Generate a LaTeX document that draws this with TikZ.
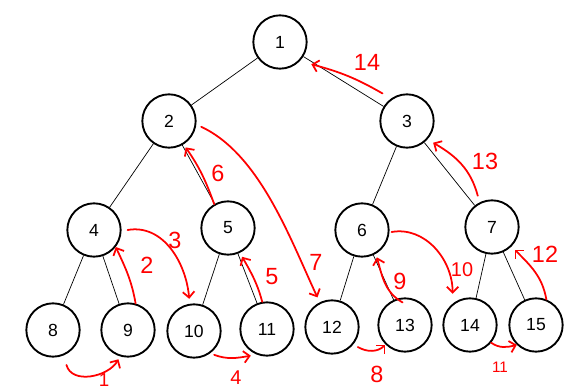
\documentclass[tikz,border=0pt]{standalone}
\usepackage{fontspec}
\setmainfont{Liberation Sans}
\usetikzlibrary{arrows.meta}

\begin{document}
\begin{tikzpicture}[x=0.03cm, y=0.03cm, >={Straight Barb[length=5pt,width=10pt]}]
    % Estilos
    \tikzstyle{vertex} = [draw, circle, line width=1.6pt, minimum size=1.6cm, inner sep=0pt, font=\fontsize{15}{18}\selectfont]
    \tikzstyle{edge} = [line width=0.6pt]
    \tikzstyle{order} = [->, red, line width=1.5pt, line cap=round]
    \tikzstyle{numlabel} = [red, inner sep=0pt, font=\fontsize{20}{24}\selectfont]

    \useasboundingbox (0,0) rectangle (585,392);

    % --- Nodos del arbol ---
    \node [vertex] (n1) at (280,350) {1};
    \node [vertex] (n2) at (169,271) {2};
    \node [vertex] (n3) at (407,271) {3};
    \node [vertex] (n4) at (94,162) {4};
    \node [vertex] (n5) at (228,164) {5};
    \node [vertex] (n6) at (362,162) {6};
    \node [vertex] (n7) at (492,165) {7};
    \node [vertex] (n8) at (53,62) {8};
    \node [vertex] (n9) at (128,62) {9};
    \node [vertex] (n10) at (194,61) {10};
    \node [vertex] (n11) at (267,63) {11};
    \node [vertex] (n12) at (332,65) {12};
    \node [vertex] (n13) at (405,67) {13};
    \node [vertex] (n14) at (470,67) {14};
    \node [vertex] (n15) at (536,67) {15};

    % --- Aristas ---
    \draw [edge] (n1) -- (n2);
    \draw [edge] (n1) -- (n3);
    \draw [edge] (n2) -- (n4);
    \draw [edge] (n2) -- (n5);
    \draw [edge] (n3) -- (n6);
    \draw [edge] (n3) -- (n7);
    \draw [edge] (n4) -- (n8);
    \draw [edge] (n4) -- (n9);
    \draw [edge] (n5) -- (n10);
    \draw [edge] (n5) -- (n11);
    \draw [edge] (n6) -- (n12);
    \draw [edge] (n6) -- (n13);
    \draw [edge] (n7) -- (n14);
    \draw [edge] (n7) -- (n15);

    % --- Recorrido (flechas rojas) ---
    \draw [order] ([shift={(4,-9)}]n8.-70) to[out=-75,in=-120] ([shift={(-1,-3)}]n9.-108);
    \draw [order] (n9.74) to[out=100,in=-65] (n4.-38);
    \draw [order] ([shift={(6,0)}]n4.east) to[out=10,in=95] ([shift={(0,5)}]n10.100);
    \draw [order] ([shift={(2,-3)}]n10.-49) to[out=-20,in=190] ([shift={(-2,-3)}]n11.-121);
    \draw [order] (n11.100) to[out=105,in=-60] ([shift={(2,-4)}]n5.-64);
    \draw [order] (n5.120) to[out=110,in=-55] ([shift={(2,-3)}]n2.-58);
    \draw [order] ([shift={(5,-1)}]n2.-10) to[out=-25,in=115,looseness=0.8] ([shift={(-2,5)}]n12.117);
    \draw [order] ([shift={(4,-3)}]n12.-38) to[out=-30,in=-135] (n13.-135);
    \draw [order] ([shift={(0,-5)}]n13.95) to[out=150,in=-75] ([shift={(2,-3)}]n6.-62);
    \draw [order] ([shift={(2,-2)}]n6.east) to[out=10,in=90] ([shift={(-4,7)}]n14.119);
    \draw [order] (n14.-40) to[out=-35,in=-165] (n15.-134);
    \draw [order] (n15.68) to[out=100,in=-45] ([shift={(3,-3)}]n7.-45);
    \draw [order] ([shift={(-3,6)}]n7.114) to[out=105,in=-30] ([shift={(5,-4)}]n3.-40);
    \draw [order] ([shift={(-6,7)}]n3.132) to[out=150,in=-15] ([shift={(9,-6)}]n1.-36);

    % --- Numeros del orden ---
    \node [numlabel, font=\fontsize{16}{19}\selectfont] (l1) at (104,12) {1};
    \node [numlabel] (l2) at (147,127) {2};
    \node [numlabel] (l3) at (175,152) {3};
    \node [numlabel, font=\fontsize{17}{20}\selectfont] (l4) at (236,14) {4};
    \node [numlabel] (l5) at (272,115) {5};
    \node [numlabel] (l6) at (218,219) {6};
    \node [numlabel] (l7) at (316,130) {7};
    \node [numlabel] (l8) at (377,18) {8};
    \node [numlabel] (l9) at (400,111) {9};
    \node [numlabel, font=\fontsize{17}{20}\selectfont] (l10) at (462,122) {10};
    \node [numlabel, font=\fontsize{13}{16}\selectfont] (l11) at (500,25) {11};
    \node [numlabel] (l12) at (545,138) {12};
    \node [numlabel] (l13) at (485,231) {13};
    \node [numlabel] (l14) at (367,330) {14};

\end{tikzpicture}
\end{document}
